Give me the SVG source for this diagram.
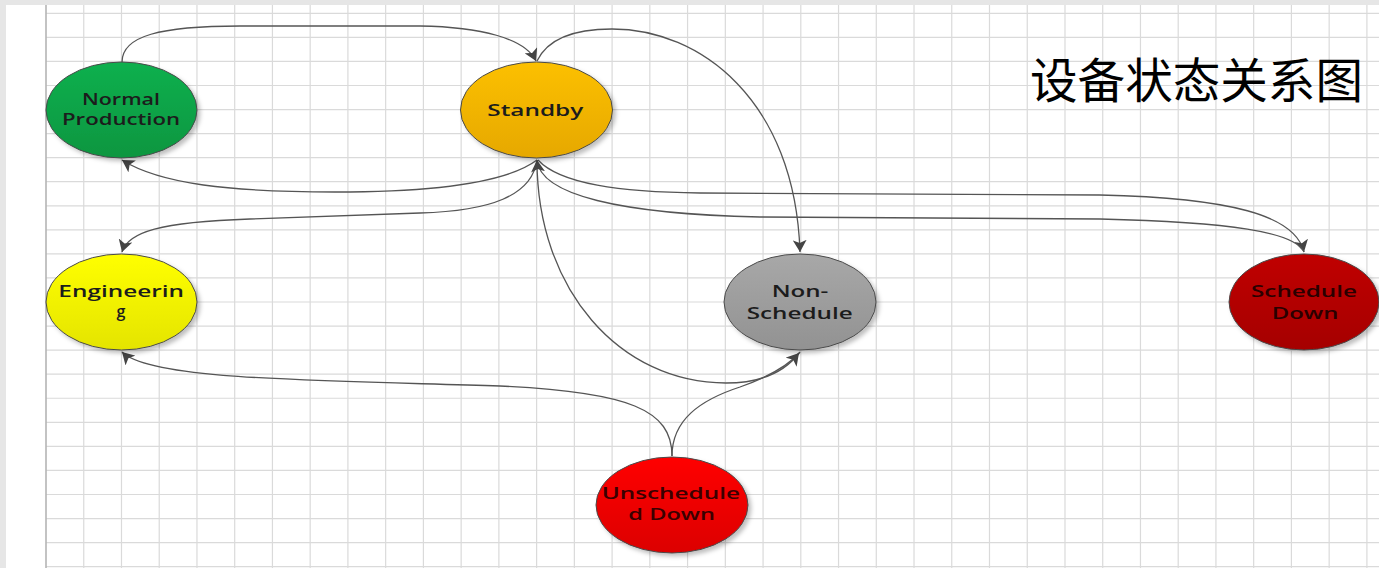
<svg xmlns="http://www.w3.org/2000/svg" width="1379" height="568" viewBox="0 0 1379 568">
<style>
.grid{stroke:#dadada;stroke-width:1.2;fill:none}
.axis{stroke:#b4b4b4;stroke-width:1.6}
.edge{fill:none;stroke:#555;stroke-width:1.3}
.node{stroke:#4a4a4a;stroke-width:1}
.lbl{font-family:"Open Sans","Liberation Sans",sans-serif;font-size:16px;font-weight:600;text-anchor:middle;fill:#1c1c1c}
.title{font-family:"Noto Sans CJK SC",sans-serif;font-size:48px;fill:#000}
</style>
<defs>
<marker id="arr" viewBox="0 0 12 14" refX="12" refY="7" markerWidth="12" markerHeight="14" markerUnits="userSpaceOnUse" orient="auto">
<path d="M0,0 L12,7 L0,14 L3,7 z" fill="#444"/>
</marker>
<filter id="sh" x="-20%" y="-20%" width="150%" height="150%">
<feDropShadow dx="3" dy="3" stdDeviation="2" flood-color="#000" flood-opacity="0.25"/>
</filter>
<linearGradient id="gGreen" x1="0" y1="0" x2="0" y2="1"><stop offset="0" stop-color="#0db04e"/><stop offset="1" stop-color="#079640"/></linearGradient>
<linearGradient id="gOrange" x1="0" y1="0" x2="0" y2="1"><stop offset="0" stop-color="#fcc000"/><stop offset="1" stop-color="#e6a800"/></linearGradient>
<linearGradient id="gYellow" x1="0" y1="0" x2="0" y2="1"><stop offset="0" stop-color="#ffff00"/><stop offset="1" stop-color="#e4e400"/></linearGradient>
<linearGradient id="gGrey" x1="0" y1="0" x2="0" y2="1"><stop offset="0" stop-color="#a8a8a8"/><stop offset="1" stop-color="#929292"/></linearGradient>
<linearGradient id="gDark" x1="0" y1="0" x2="0" y2="1"><stop offset="0" stop-color="#c00000"/><stop offset="1" stop-color="#a50000"/></linearGradient>
<linearGradient id="gRed" x1="0" y1="0" x2="0" y2="1"><stop offset="0" stop-color="#ff0000"/><stop offset="1" stop-color="#dc0000"/></linearGradient>
</defs>
<rect x="0" y="0" width="1379" height="568" fill="#e6e6e6"/>
<rect x="6" y="5" width="1373" height="563" fill="#fff"/>
<g id="grid">
<path class="grid" d="M83.74,5V568M121.48,5V568M159.22,5V568M196.96,5V568M234.7,5V568M272.44,5V568M310.18,5V568M347.92,5V568M385.66,5V568M423.4,5V568M461.14,5V568M498.88,5V568M536.62,5V568M574.36,5V568M612.1,5V568M649.84,5V568M687.58,5V568M725.32,5V568M763.06,5V568M800.8,5V568M838.54,5V568M876.28,5V568M914.02,5V568M951.76,5V568M989.5,5V568M1027.24,5V568M1064.98,5V568M1102.72,5V568M1140.46,5V568M1178.2,5V568M1215.94,5V568M1253.68,5V568M1291.42,5V568M1329.16,5V568M1366.9,5V568"/>
<path class="grid" d="M46,13.3H1379M46,37.36H1379M46,61.42H1379M46,85.48H1379M46,109.54H1379M46,133.6H1379M46,157.66H1379M46,181.72H1379M46,205.78H1379M46,229.84H1379M46,253.9H1379M46,277.96H1379M46,302.02H1379M46,326.08H1379M46,350.14H1379M46,374.2H1379M46,398.26H1379M46,422.32H1379M46,446.38H1379M46,470.44H1379M46,494.5H1379M46,518.56H1379M46,542.62H1379M46,566.68H1379"/>
<path class="axis" d="M46,5V568"/>
</g>
<text class="title" x="1030" y="98" textLength="333" lengthAdjust="spacingAndGlyphs">设备状态关系图</text>
<g id="connectors">
<path class="edge" d="M122,62 C122,36 160,26 240,26 L420,26 C480,27 525,38 536,61" marker-end="url(#arr)"/>
<path class="edge" d="M537,61 C548,38 575,29 612,29 C700,29 795,100 800,252" marker-end="url(#arr)"/>
<path class="edge" d="M537,160 C505,184 430,192 335,192 C230,192 160,184 122,160" marker-end="url(#arr)"/>
<path class="edge" d="M537,160 C532,196 490,211 420,213 L250,219 C160,222 128,232 122,252" marker-end="url(#arr)"/>
<path class="edge" d="M537,160 C537,290 620,383 726,383 C760,383 785,372 800,352"/>
<path class="edge" d="M672,456 C672,420 700,400 740,387 C768,377 788,366 799,353" marker-end="url(#arr)"/>
<path class="edge" d="M672,456 C672,410 630,392 500,386 C310,380 150,380 122,352" marker-end="url(#arr)"/>
<path class="edge" d="M538,160 C560,184 620,192 700,193 L1100,195 C1230,198 1295,215 1304,252" marker-end="url(#arr)"/>
<path class="edge" d="M1304,252 C1295,232 1230,222 1100,219 L760,217 C620,214 540,195 537,160" marker-end="url(#arr)"/>
</g>
<g id="normal-production">
<ellipse class="node" cx="121.5" cy="110" rx="75.5" ry="48" fill="url(#gGreen)" filter="url(#sh)"/>
<text class="lbl" x="121" y="105" textLength="78" lengthAdjust="spacingAndGlyphs">Normal</text>
<text class="lbl" x="121" y="125" textLength="118" lengthAdjust="spacingAndGlyphs">Production</text>
</g>
<g id="standby">
<ellipse class="node" cx="536.5" cy="110" rx="76" ry="48" fill="url(#gOrange)" filter="url(#sh)"/>
<text class="lbl" x="535.3" y="116" textLength="96" lengthAdjust="spacingAndGlyphs">Standby</text>
</g>
<g id="engineering">
<ellipse class="node" cx="121.5" cy="302" rx="75.5" ry="48" fill="url(#gYellow)" filter="url(#sh)"/>
<text class="lbl" x="121.2" y="297" textLength="125.7" lengthAdjust="spacingAndGlyphs">Engineerin</text>
<text class="lbl" x="121" y="317">g</text>
</g>
<g id="non-schedule">
<ellipse class="node" cx="800" cy="302" rx="76" ry="48" fill="url(#gGrey)" filter="url(#sh)"/>
<text class="lbl" x="800" y="297" textLength="56.7" lengthAdjust="spacingAndGlyphs">Non-</text>
<text class="lbl" x="799.7" y="319" textLength="106" lengthAdjust="spacingAndGlyphs">Schedule</text>
</g>
<g id="schedule-down">
<ellipse class="node" cx="1304" cy="302" rx="75" ry="48" fill="url(#gDark)" filter="url(#sh)"/>
<text class="lbl" x="1304" y="297" textLength="106" lengthAdjust="spacingAndGlyphs" style="fill:#2a0000">Schedule</text>
<text class="lbl" x="1305" y="318.5" textLength="66.7" lengthAdjust="spacingAndGlyphs" style="fill:#2a0000">Down</text>
</g>
<g id="unscheduled-down">
<ellipse class="node" cx="672" cy="505" rx="76" ry="48" fill="url(#gRed)" filter="url(#sh)"/>
<text class="lbl" x="670.8" y="498.5" textLength="138.3" lengthAdjust="spacingAndGlyphs" style="fill:#3a0000">Unschedule</text>
<text class="lbl" x="671.7" y="520" textLength="86.7" lengthAdjust="spacingAndGlyphs" style="fill:#3a0000">d Down</text>
</g>
</svg>
